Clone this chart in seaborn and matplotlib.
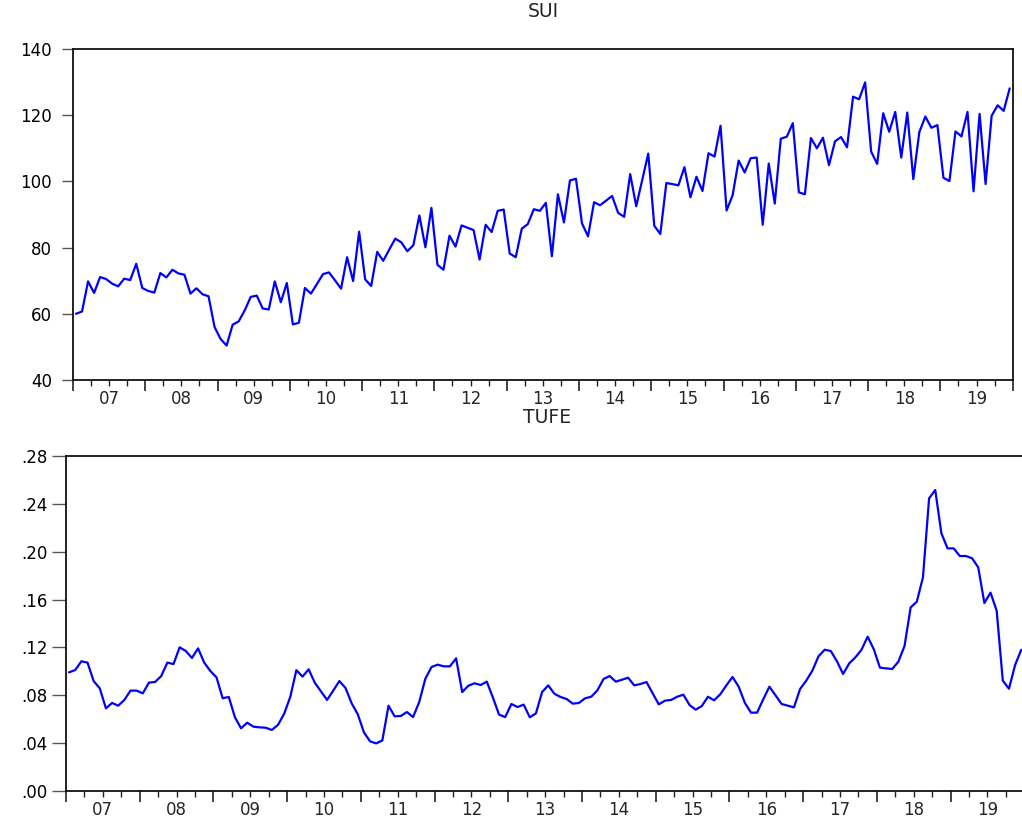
import numpy as np
import pandas as pd
import matplotlib
matplotlib.use("Agg")
import matplotlib.pyplot as plt
import seaborn as sns
from matplotlib.ticker import FixedLocator, FuncFormatter

year_labels = ['07', '08', '09', '10', '11', '12', '13', '14', '15', '16', '17', '18', '19']

sui = [
    60.0, 60.7, 69.8, 66.3, 71.1, 70.5, 69.1, 68.3, 70.6, 70.2, 75.1, 67.8,
    66.9, 66.4, 72.3, 71.0, 73.3, 72.2, 71.8, 66.1, 67.7, 65.9, 65.3, 56.0,
    52.4, 50.4, 56.7, 57.7, 61.0, 65.1, 65.5, 61.6, 61.3, 69.8, 63.5, 69.3,
    56.8, 57.3, 67.8, 66.1, 69.0, 72.0, 72.5, 70.1, 67.6, 77.1, 69.9, 84.8,
    70.4, 68.4, 78.7, 76.0, 79.4, 82.7, 81.6, 78.9, 80.7, 89.7, 80.1, 92.0,
    74.8, 73.3, 83.6, 80.3, 86.7, 86.0, 85.3, 76.4, 86.9, 84.7, 91.1, 91.5,
    78.2, 77.1, 85.7, 87.1, 91.6, 91.1, 93.5, 77.4, 96.1, 87.6, 100.3, 100.8,
    87.3, 83.4, 93.7, 92.8, 94.2, 95.6, 90.5, 89.3, 102.2, 92.5, 100.4, 108.4,
    86.6, 84.1, 99.5, 99.2, 98.8, 104.3, 95.2, 101.4, 97.1, 108.5, 107.5, 116.8,
    91.2, 95.8, 106.3, 102.7, 107.0, 107.2, 86.9, 105.4, 93.3, 112.9, 113.5, 117.6,
    96.7, 96.1, 113.1, 110.0, 113.2, 104.9, 112.1, 113.4, 110.3, 125.6, 124.8, 129.9,
    109.0, 105.3, 120.6, 115.0, 121.0, 107.2, 120.8, 100.7, 114.9, 119.6, 116.2, 117.0,
    101.1, 100.1, 115.1, 113.6, 121.0, 97.0, 120.4, 99.2, 119.8, 123.0, 121.3, 128.1,
]

tufe = [
    .0992, .1011, .1084, .1073, .0919, .0858, .0691, .0736, .0713, .0761, .0839, .0839,
    .0816, .0906, .0911, .0961, .1073, .1061, .1201, .1170, .1112, .1192, .1073, .1003,
    .0950, .0775, .0786, .0616, .0524, .0571, .0538, .0532, .0529, .0510, .0552, .0644,
    .0785, .1010, .0956, .1017, .0905, .0833, .0761, .0839, .0919, .0861, .0733, .0641,
    .0490, .0415, .0398, .0423, .0713, .0624, .0627, .0660, .0618, .0744, .0939, .1036,
    .1056, .1042, .1042, .1109, .0827, .0880, .0900, .0886, .0914, .0780, .0638, .0618,
    .0727, .0702, .0722, .0616, .0649, .0827, .0883, .0813, .0786, .0769, .0730, .0736,
    .0775, .0788, .0841, .0936, .0961, .0914, .0930, .0947, .0883, .0894, .0911, .0816,
    .0724, .0755, .0761, .0788, .0805, .0719, .0680, .0710, .0788, .0758, .0808, .0883,
    .0953, .0872, .0738, .0655, .0655, .0766, .0872, .0800, .0727, .0713, .0699, .0853,
    .0922, .1006, .1126, .1181, .1170, .1084, .0978, .1067, .1117, .1181, .1290, .1184,
    .1031, .1025, .1020, .1081, .1212, .1535, .1582, .1786, .2446, .2516, .2154, .2028,
    .2028, .1964, .1964, .1945, .1869, .1571, .1658, .1507, .0922, .0855, .1053, .1180,
]

sns.set_style("white")
plt.rcParams['font.family'] = ['DejaVu Sans']

df = pd.DataFrame({'t': np.arange(len(sui)), 'SUI': sui, 'TUFE': tufe})

W, H = 1022, 827
fig = plt.figure(figsize=(W / 100, H / 100), dpi=100)
ax1 = fig.add_axes([73 / W, 1 - 380 / H, 940 / W, 331 / H])
ax2 = fig.add_axes([66 / W, 1 - 791 / H, 962 / W, 335 / H])

LINE = '#0000FF'
sns.lineplot(data=df, x='t', y='SUI', ax=ax1, color=LINE, lw=1.6)
sns.lineplot(data=df, x='t', y='TUFE', ax=ax2, color=LINE, lw=1.6)

n_years = len(year_labels)
year_bounds = [12 * k - 0.5 for k in range(n_years + 1)]
quarters = [12 * k - 0.5 + q for k in range(n_years) for q in (3, 6, 9)]
mids = [12 * k + 5.5 for k in range(n_years)]


def style(ax, xmax, ylim, yticks, fmt, ytick_len, ytick_pad, right_spine):
    ax.set_xlim(-0.5, xmax)
    ax.set_ylim(*ylim)
    ax.set_xlabel('')
    ax.set_ylabel('')
    ax.xaxis.set_major_locator(FixedLocator(year_bounds))
    ax.xaxis.set_minor_locator(FixedLocator(quarters))
    ax.xaxis.set_major_formatter(FuncFormatter(lambda v, p: ''))
    ax.tick_params(axis='x', which='major', length=8, width=1.2, color='#222222', direction='out', bottom=True)
    ax.tick_params(axis='x', which='minor', length=4.5, width=1.0, color='#222222', direction='out', bottom=True)
    ax.set_yticks(yticks)
    ax.yaxis.set_major_formatter(FuncFormatter(fmt))
    ax.tick_params(axis='y', length=ytick_len, width=1.0, color='#555555', pad=ytick_pad,
                   labelsize=12, labelcolor='black', left=True)
    for s in ('left', 'bottom', 'top'):
        ax.spines[s].set_visible(True)
        ax.spines[s].set_color('#111111')
        ax.spines[s].set_linewidth(1.3)
    ax.spines['right'].set_visible(right_spine)
    ax.spines['right'].set_color('#111111')
    ax.spines['right'].set_linewidth(1.3)
    sec = ax.secondary_xaxis('bottom')
    sec.set_xticks(mids, labels=year_labels)
    sec.tick_params(length=0, pad=7.5, labelsize=12)
    sec.spines['bottom'].set_visible(False)
    ax.grid(False)


style(ax1, 155.55, (40, 140), list(range(40, 141, 20)),
      lambda v, p: f"{v:.0f}", 8, 7, True)
style(ax2, 156.1, (0, 0.28), [0, .04, .08, .12, .16, .20, .24, .28],
      lambda v, p: f"{v:.2f}"[1:], 10, 3, False)

ax1.set_title('SUI', fontsize=13.5, pad=23)
ax2.set_title('TUFE', fontsize=13.5, pad=23.5)

fig.savefig('out.png', dpi=100)
